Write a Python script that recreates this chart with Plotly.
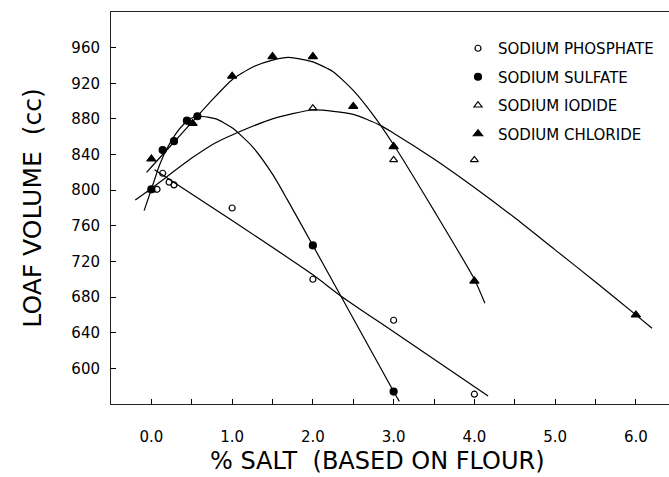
import plotly.graph_objects as go

# ---- measured data points ----
phosphate_x = [0.07, 0.14, 0.22, 0.28, 1.0, 2.0, 3.0, 4.0]
phosphate_y = [801, 819, 809, 806, 780, 700, 654, 571]

sulfate_x = [0.0, 0.14, 0.28, 0.44, 0.57, 2.0, 3.0]
sulfate_y = [801, 845, 855, 878, 883, 738, 574]

iodide_x = [0.0, 2.0, 3.0, 4.0]
iodide_y = [800, 892, 834, 834]

chloride_x = [0.0, 0.51, 1.0, 1.5, 2.0, 2.5, 3.0, 4.0, 6.0]
chloride_y = [835, 875, 928, 950, 950, 894, 849, 698, 660]

# ---- fitted curves ----
phos_cx = [0.04, 1.0, 2.0, 2.35, 3.0, 4.17]
phos_cy = [823, 766, 705, 681, 641, 569]

sulf_cx = [-0.09, 0.0, 0.1, 0.2, 0.3, 0.4, 0.5, 0.6, 0.8, 1.0, 1.25, 1.5, 1.68, 2.0, 2.5, 3.0, 3.07]
sulf_cy = [777, 801, 828, 848, 863, 874, 881, 883, 880, 870, 849, 818, 790, 738, 656, 574, 563]

iod_cx = [-0.2, 0.0, 0.5, 0.79, 1.0, 1.5, 2.0, 2.5, 2.83, 3.0, 3.5, 4.0, 4.5, 5.0, 5.5, 6.0, 6.2]
iod_cy = [789, 802, 836, 853, 862, 880, 890, 885, 873, 864, 835, 803, 769, 733, 697, 660, 645]

chl_cx = [-0.06, 0.0, 0.25, 0.5, 0.75, 1.0, 1.25, 1.5, 1.7, 2.0, 2.25, 2.5, 2.75, 3.0, 3.5, 4.0, 4.13]
chl_cy = [820, 826, 851, 876, 901, 924, 938, 946, 949, 944, 933, 912, 884, 851, 777, 700, 673]

x_tickvals = [0.0, 0.5, 1.0, 1.5, 2.0, 2.5, 3.0, 3.5, 4.0, 4.5, 5.0, 5.5, 6.0]
x_ticktext = ["0.0", "", "1.0", "", "2.0", "", "3.0", "", "4.0", "", "5.0", "", "6.0"]
y_tickvals = [600, 640, 680, 720, 760, 800, 840, 880, 920, 960]

x_title = "%\u00a0SALT\u00a0\u00a0(BASED\u00a0ON\u00a0FLOUR)"
y_title = "LOAF\u00a0VOLUME\u00a0\u00a0(cc)"

FONT = "DejaVu Sans"
line_style = dict(color="black", width=1.2, shape="spline", smoothing=0.6)

fig = go.Figure()
for cx, cy in [(phos_cx, phos_cy), (sulf_cx, sulf_cy), (iod_cx, iod_cy), (chl_cx, chl_cy)]:
    fig.add_trace(go.Scatter(x=cx, y=cy, mode="lines", line=line_style,
                             showlegend=False, hoverinfo="skip"))

series = [
    ("SODIUM PHOSPHATE", phosphate_x, phosphate_y, "circle-open", 6),
    ("SODIUM SULFATE", sulfate_x, sulfate_y, "circle", 7),
    ("SODIUM IODIDE", iodide_x, iodide_y, "triangle-up-open", 7),
    ("SODIUM CHLORIDE", chloride_x, chloride_y, "triangle-up", 8),
]
for i, (name, xs, ys, sym, sz) in enumerate(series):
    fig.add_trace(go.Scatter(
        x=xs, y=ys, mode="markers", name=name, legendgroup=str(i),
        marker=dict(symbol=sym, size=sz, color="black",
                    line=dict(color="black", width=1.2)),
    ))

fig.update_layout(
    width=669, height=477,
    margin=dict(l=111, r=0, t=12, b=73, autoexpand=False),
    paper_bgcolor="white", plot_bgcolor="white",
    font=dict(family=FONT, color="black"),
    legend=dict(x=(458 - 111) / 558, y=(404 - 32) / 392, xanchor="left", yanchor="top",
                font=dict(family=FONT, size=15, color="black"),
                tracegroupgap=6, itemsizing="trace", bgcolor="rgba(0,0,0,0)"),
    xaxis=dict(range=[-0.5, 6.41], tickvals=x_tickvals, ticktext=x_ticktext,
               ticks="inside", ticklen=5, tickcolor="black", showgrid=False, zeroline=False,
               showline=True, linecolor="#222", linewidth=1, mirror=True, automargin=False,
               tickfont=dict(family=FONT, size=15), ticklabelstandoff=19),
    yaxis=dict(range=[560, 1000], tickvals=y_tickvals,
               ticks="inside", ticklen=5, tickcolor="black", showgrid=False, zeroline=False,
               showline=True, linecolor="#222", linewidth=1, mirror=False, automargin=False,
               tickfont=dict(family=FONT, size=15), ticklabelstandoff=7,
               title=dict(text=y_title, font=dict(family=FONT, size=25), standoff=22)),
    annotations=[dict(text=x_title, xref="paper", yref="paper",
                      x=(377 - 111) / 558, y=-(476 - 404) / 392,
                      xanchor="center", yanchor="bottom", showarrow=False, borderpad=0,
                      font=dict(family=FONT, size=24, color="black"))],
)

fig.write_html("out.html", config={"displayModeBar": False},
               post_script="document.body.style.margin='0';document.body.style.overflow='hidden';")
